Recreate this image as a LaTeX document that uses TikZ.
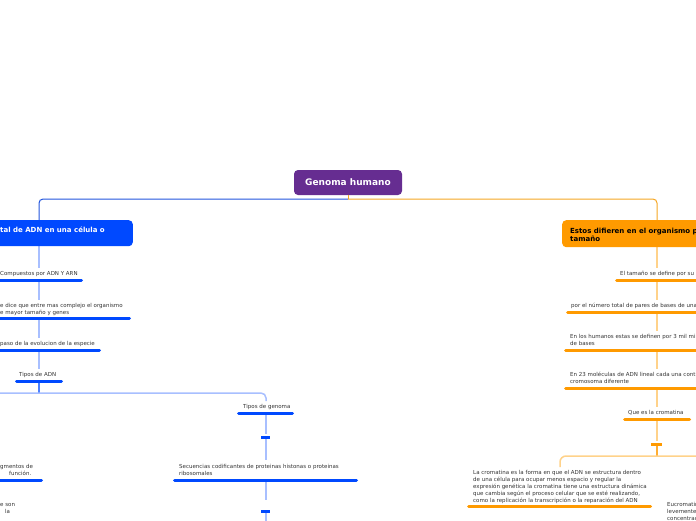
\documentclass[tikz,border=0pt]{standalone}
\usepackage{fontspec}
\setmainfont{DejaVu Sans}
\definecolor{mpurple}{HTML}{662D91}
\definecolor{mblue}{HTML}{0049FF}
\definecolor{morange}{HTML}{FF9A00}
\definecolor{lblue}{HTML}{A8BFFF}
\definecolor{lorange}{HTML}{FFD28A}
\definecolor{rblue}{HTML}{2255DD}
\definecolor{rorange}{HTML}{F5A623}
\definecolor{textgray}{HTML}{333333}
\begin{document}
\begin{tikzpicture}[x=1pt,y=-1pt,
  txt/.style={font=\fontsize{5.5}{7}\selectfont, text=textgray, inner sep=0pt, anchor=base west, align=left},
  ubar/.style={line width=3pt, line cap=round},
  bbar/.style={ubar, draw=mblue},
  obar/.style={ubar, draw=morange},
  sbar/.style={line width=3pt, line cap=butt},
  bcon/.style={draw=lblue, line width=1.5pt},
  ocon/.style={draw=lorange, line width=1.5pt},
  boxtxt/.style={font=\fontsize{7}{8}\selectfont\bfseries, inner sep=0pt, anchor=base west, align=left},
]
\useasboundingbox (0,0) rectangle (696,520);
\clip (0,0) rectangle (696,520);

% ---------- root ----------
\node[fill=mpurple, rounded corners=4pt, minimum width=108pt, minimum height=25pt, inner sep=0pt,
      text=white, font=\fontsize{9}{10}\selectfont\bfseries] (root) at (348,182.5) {Genoma humano};
\coordinate (rj) at (348,199);
\draw[rorange, line width=1pt] (root.south) -- (rj);
\draw[rblue, line width=1pt, rounded corners=4pt] (rj) -- (39,199) -- (39,220);
\draw[rorange, line width=1pt, rounded corners=4pt] (rj) -- (657,199) -- (657,220);

% ---------- connectors (behind) ----------
\draw[bcon] (39,246) -- (39,268);
\draw[bcon] (39,280) -- (39,300);
\draw[bcon] (39,318) -- (39,338);
\draw[bcon] (39,350) -- (39,369);
\draw[mblue!70, line width=1.5pt] (39,381) -- (39,393);
\draw[bcon, rounded corners=5pt] (-5,393) -- (266,393) -- (266,401);
\draw[bcon] (266,413) -- (266,434);
\draw[bcon] (266,437) -- (266,460);
\draw[bcon] (266,480) -- (266,500);
\draw[bcon] (266,511) -- (266,522);

\draw[ocon] (657,247) -- (657,268);
\draw[ocon] (657,280) -- (657,300);
\draw[ocon] (657,312) -- (657,331);
\draw[ocon] (657,350) -- (657,369);
\draw[ocon] (657,388) -- (657,407);
\draw[ocon] (657,419) -- (657,441);
\draw[morange!80, line width=1.5pt] (657,444) -- (657,456);
\draw[ocon, rounded corners=6pt] (700,456) -- (560,456) -- (560,467);

% ---------- blue main box ----------
\node[fill=mblue, rounded corners=4pt, minimum width=173pt, minimum height=26pt, inner sep=0pt, anchor=north east] (bbox) at (133,220) {};
\node[boxtxt, text=white] (btxt) at (0,232) {tal de ADN en una célula o};

% ---------- orange main box ----------
\node[fill=morange, rounded corners=4pt, minimum width=200pt, minimum height=27pt, inner sep=0pt, anchor=north west] (obox) at (562,220) {};
\node[boxtxt, text=black] (otxt) at (570,241) {Estos difieren en el organismo por\\tamaño};

% ---------- left blue column ----------
\node[txt] (l1) at (0,275) {Compuestos por ADN Y ARN};
\draw[bbar] (0,280) -- (81.5,280);
\node[txt] (l2) at (0,314) {e dice que entre mas complejo el organismo\\e mayor tamaño y genes};
\draw[bbar] (0,318) -- (129.5,318);
\node[txt] (l3) at (0,345) {paso de la evolucion de la especie};
\draw[bbar] (0,350) -- (99.5,350);
\node[txt] (l4) at (19,376) {Tipos de ADN};
\draw[bbar] (16.5,381) -- (61.5,381);

\node[txt] (l5) at (0,475) {gmentos de\\\hspace*{9pt}función.};
\draw[bbar] (0,480) -- (41.5,480);
\node[txt] (l6) at (0,513) {e son\\\hspace*{5pt}la};

% ---------- middle blue column ----------
\node[txt] (g1) at (243,408) {Tipos de genoma};
\draw[bbar] (238.5,413) -- (292.5,413);
\draw[sbar, mblue] (261,437) -- (270,437);
\node[txt] (g2) at (179,475) {Secuencias codificantes de proteinas histonas o proteinas\\ribosomales};
\draw[bbar] (174.5,480) -- (356.5,480);
\draw[sbar, mblue] (261,511) -- (270,511);

% ---------- right orange column ----------
\node[txt] (r1) at (620,275) {El tamaño se define por su};
\draw[obar] (616.5,280) -- (700,280);
\node[txt] (r2) at (571,307) {por el número total de pares de bases de una};
\draw[obar] (567.5,312) -- (700,312);
\node[txt] (r3) at (570,345) {En los humanos estas se definen por 3 mil millones\\de bases};
\draw[obar] (565.5,350) -- (700,350);
\node[txt] (r4) at (570,383) {En 23 moléculas de ADN lineal cada una contiene\\cromosoma diferente};
\draw[obar] (565.5,388) -- (700,388);
\node[txt] (r5) at (628,414) {Que es la cromatina};
\draw[obar] (624.5,419) -- (689.5,419);
\draw[sbar, morange] (651,444) -- (662,444);

\node[txt] (r6) at (473,502) {La cromatina es la forma en que el ADN se estructura dentro\\de una célula para ocupar menos espacio y regular la\\expresión genética la cromatina tiene una estructura dinámica\\que cambia según el proceso celular que se esté realizando,\\como la replicación la transcripción o la reparación del ADN};
\draw[obar] (468.5,506) -- (650.5,506);
\node[txt] (r7) at (667,520) {Eucromatina\\levemente\\concentrada};
\end{tikzpicture}
\end{document}
